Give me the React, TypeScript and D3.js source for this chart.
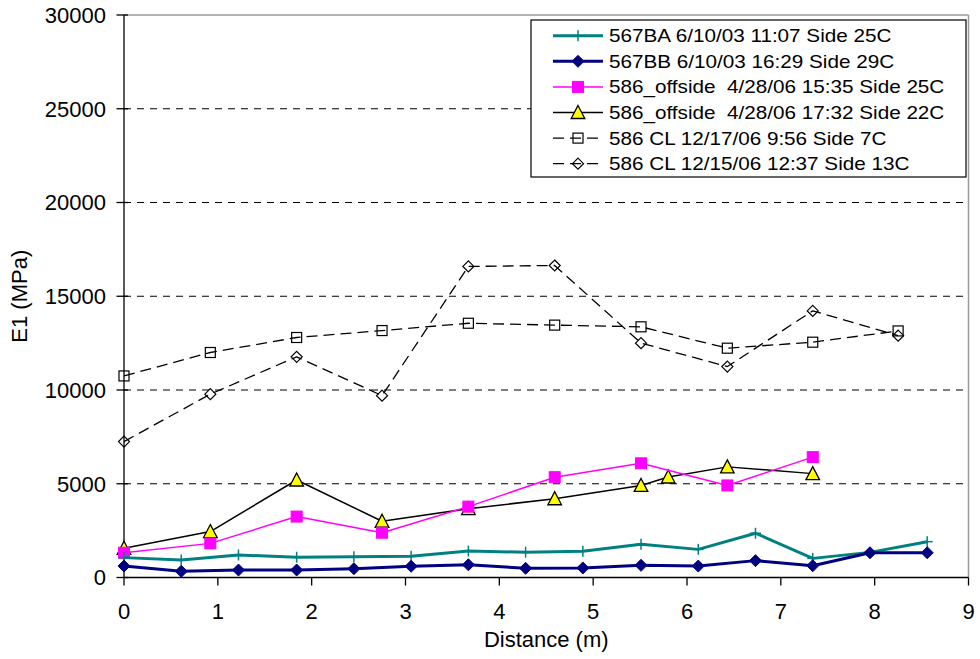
import React from "react";
import * as d3 from "d3";

const distA = [0, 0.61, 1.22, 1.84, 2.45, 3.06, 3.67, 4.28, 4.89, 5.51, 6.12, 6.73, 7.34, 7.95, 8.56];
const e567BA = [1060, 930, 1200, 1080, 1110, 1130, 1410, 1350, 1400, 1770, 1500, 2360, 1020, 1340, 1910];
const e567BB = [610, 330, 400, 400, 470, 600, 680, 490, 510, 650, 610, 900, 630, 1320, 1320];

const distC = [0, 0.92, 1.84, 2.75, 3.67, 4.59, 5.51, 6.43, 7.34];
const eOff1535 = [1320, 1820, 3250, 2390, 3780, 5350, 6090, 4910, 6420];

const distD = [0, 0.92, 1.84, 2.75, 3.67, 4.59, 5.51, 5.8, 6.43, 7.34];
const eOff1732 = [1560, 2450, 5200, 3000, 3670, 4200, 4910, 5360, 5900, 5540];

const distE = [0, 0.92, 1.84, 2.75, 3.67, 4.59, 5.51, 6.43, 7.34, 8.25];
const eCL1217 = [10750, 12000, 12800, 13170, 13560, 13460, 13370, 12230, 12550, 13150];
const eCL1215 = [7250, 9780, 11770, 9700, 16590, 16640, 12500, 11250, 14220, 12900];

const xTicks = [0, 1, 2, 3, 4, 5, 6, 7, 8, 9];
const yTicks = [0, 5000, 10000, 15000, 20000, 25000, 30000];
const yGrid = [5000, 10000, 15000, 20000, 25000];

const seriesNames = [
  "567BA 6/10/03 11:07 Side 25C",
  "567BB 6/10/03 16:29 Side 29C",
  "586_offside  4/28/06 15:35 Side 25C",
  "586_offside  4/28/06 17:32 Side 22C",
  "586 CL 12/17/06 9:56 Side 7C",
  "586 CL 12/15/06 12:37 Side 13C",
];

type MarkerKind = "plus" | "diamondFilled" | "squareFilled" | "triangle" | "squareOpen" | "diamondOpen";

interface Series {
  name: string;
  xs: number[];
  ys: number[];
  color: string;
  width: number;
  dash?: string;
  marker: MarkerKind;
}

const series: Series[] = [
  { name: seriesNames[4], xs: distE, ys: eCL1217, color: "#000000", width: 1.3, dash: "11,6", marker: "squareOpen" },
  { name: seriesNames[5], xs: distE, ys: eCL1215, color: "#000000", width: 1.3, dash: "11,6", marker: "diamondOpen" },
  { name: seriesNames[3], xs: distD, ys: eOff1732, color: "#000000", width: 1.5, marker: "triangle" },
  { name: seriesNames[2], xs: distC, ys: eOff1535, color: "#FF00FF", width: 1.5, marker: "squareFilled" },
  { name: seriesNames[0], xs: distA, ys: e567BA, color: "#008080", width: 3, marker: "plus" },
  { name: seriesNames[1], xs: distA, ys: e567BB, color: "#000080", width: 3, marker: "diamondFilled" },
];

const legendOrder = [4, 5, 3, 2, 0, 1];

function Marker({ kind, x, y, color }: { kind: MarkerKind; x: number; y: number; color: string }) {
  switch (kind) {
    case "plus":
      return (
        <g stroke={color} strokeWidth={1.5}>
          <line x1={x} y1={y - 5.5} x2={x} y2={y + 5.5} />
          <line x1={x - 5.5} y1={y} x2={x + 5.5} y2={y} />
        </g>
      );
    case "diamondFilled":
      return <path d={`M${x},${y - 6}L${x + 6},${y}L${x},${y + 6}L${x - 6},${y}Z`} fill={color} stroke={color} strokeWidth={1} />;
    case "squareFilled":
      return <rect x={x - 5.5} y={y - 5.5} width={11} height={11} fill={color} stroke={color} strokeWidth={1} />;
    case "triangle":
      return <path d={`M${x},${y - 7}L${x + 6.8},${y + 6}L${x - 6.8},${y + 6}Z`} fill="#FFFF00" stroke="#000000" strokeWidth={1.3} />;
    case "squareOpen":
      return <rect x={x - 5} y={y - 5} width={10} height={10} fill="none" stroke="#000" strokeWidth={1.2} />;
    case "diamondOpen":
      return <path d={`M${x},${y - 5.5}L${x + 5.5},${y}L${x},${y + 5.5}L${x - 5.5},${y}Z`} fill="none" stroke="#000" strokeWidth={1.2} />;
  }
  return null;
}

export default function App() {
  const W = 980;
  const H = 659;
  const left = 124;
  const right = 968.5;
  const top = 15;
  const bottom = 577.5;

  const x = d3.scaleLinear().domain([0, 9]).range([left, right]);
  const y = d3.scaleLinear().domain([0, 30000]).range([bottom, top]);

  const font = "'Liberation Sans', Arial, Helvetica, sans-serif";

  const lineGen = d3
    .line<[number, number]>()
    .x((d) => x(d[0]))
    .y((d) => y(d[1]));

  const legX = 531;
  const legY = 20;
  const legW = 435;
  const legH = 157;
  const rowY0 = 35.7;
  const rowDY = 25.6;

  return (
    <svg width={W} height={H} style={{ position: "absolute", left: 0, top: 0, background: "#fff" }}>
      <rect x={0} y={0} width={W} height={H} fill="#fff" />
      {/* grid */}
      {yGrid.map((v) => (
        <line key={v} x1={left} x2={right} y1={y(v)} y2={y(v)} stroke="#000" strokeWidth={1} strokeDasharray="7,6" />
      ))}
      {/* plot border top/right */}
      <line x1={left} x2={right} y1={top} y2={top} stroke="#999" strokeWidth={1.5} />
      <line x1={right} x2={right} y1={top} y2={bottom} stroke="#999" strokeWidth={1.5} />
      {/* axes */}
      <line x1={left} x2={left} y1={top} y2={bottom} stroke="#000" strokeWidth={1.3} />
      <line x1={left} x2={right} y1={bottom} y2={bottom} stroke="#000" strokeWidth={1.3} />
      {yTicks.map((v) => (
        <g key={v}>
          <line x1={left - 7.5} x2={left + 4} y1={y(v)} y2={y(v)} stroke="#000" strokeWidth={1.3} />
          <text x={106} y={y(v)} dy="0.36em" textAnchor="end" fontFamily={font} fontSize={22} fill="#000">
            {v}
          </text>
        </g>
      ))}
      {xTicks.map((v) => (
        <g key={v}>
          <line x1={x(v)} x2={x(v)} y1={bottom} y2={bottom + 8} stroke="#000" strokeWidth={1.3} />
          <text x={x(v)} y={619} textAnchor="middle" fontFamily={font} fontSize={22} fill="#000">
            {v}
          </text>
        </g>
      ))}
      <text x={(left + right) / 2} y={647} textAnchor="middle" fontFamily={font} fontSize={22} fill="#000">
        Distance (m)
      </text>
      <text
        transform={`translate(27,${(top + bottom) / 2}) rotate(-90)`}
        textAnchor="middle"
        fontFamily={font}
        fontSize={22}
        fill="#000"
      >
        E1 (MPa)
      </text>
      {/* series */}
      {series.map((s, i) => {
        const pts = s.xs.map((xv, j) => [xv, s.ys[j]] as [number, number]);
        return (
          <g key={i}>
            <path d={lineGen(pts) || ""} fill="none" stroke={s.color} strokeWidth={s.width} strokeDasharray={s.dash} strokeLinejoin="round" />
            {pts.map((p, j) => (
              <Marker key={j} kind={s.marker} x={x(p[0])} y={y(p[1])} color={s.color} />
            ))}
          </g>
        );
      })}
      {/* legend */}
      <rect x={legX} y={legY} width={legW} height={legH} fill="#fff" stroke="#000" strokeWidth={1.2} />
      {legendOrder.map((si, r) => {
        const s = series[si];
        const cy = rowY0 + r * rowDY;
        return (
          <g key={r}>
            <line x1={553} x2={603} y1={cy} y2={cy} stroke={s.color} strokeWidth={s.width} strokeDasharray={s.dash} />
            <Marker kind={s.marker} x={578} y={cy} color={s.color} />
            <text
              transform={`translate(609,${cy}) scale(1.15,1)`}
              dy="0.36em"
              fontFamily={font}
              fontSize={18}
              fill="#000"
              style={{ whiteSpace: "pre" }}
            >
              {s.name}
            </text>
          </g>
        );
      })}
    </svg>
  );
}
